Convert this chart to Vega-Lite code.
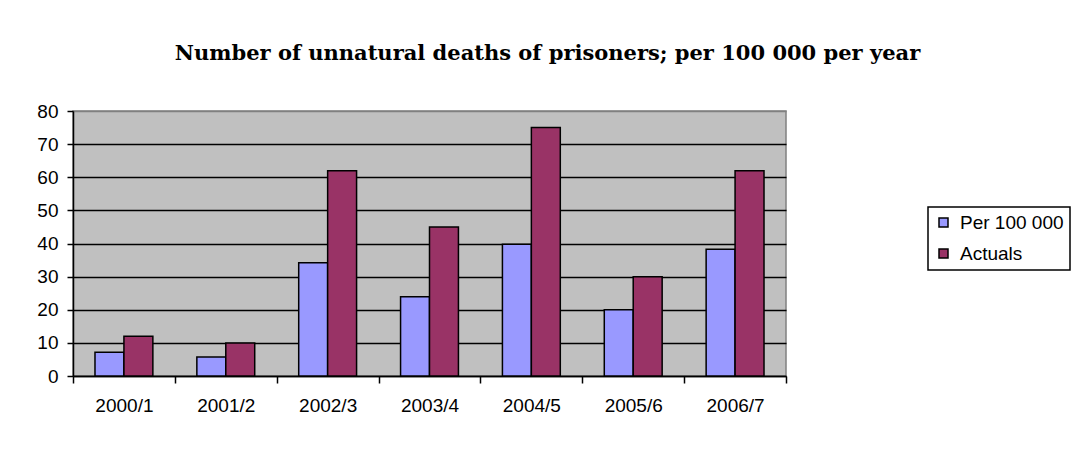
{
  "$schema": "https://vega.github.io/schema/vega-lite/v6.json",
  "width": 713,
  "height": 265,
  "autosize": {"type": "none"},
  "padding": {"left": 73, "top": 111, "right": 297, "bottom": 74},
  "background": "white",
  "title": {
    "text": "Number of unnatural deaths of prisoners; per 100 000 per year",
    "font": "DejaVu Serif",
    "fontWeight": "bold",
    "fontSize": 21,
    "color": "black",
    "anchor": "middle",
    "dx": 118,
    "offset": 38
  },
  "data": {
    "values": [
      {"year": "2000/1", "series": "Per 100 000", "value": 7.2},
      {"year": "2000/1", "series": "Actuals", "value": 12},
      {"year": "2001/2", "series": "Per 100 000", "value": 5.7},
      {"year": "2001/2", "series": "Actuals", "value": 10},
      {"year": "2002/3", "series": "Per 100 000", "value": 34.2},
      {"year": "2002/3", "series": "Actuals", "value": 62},
      {"year": "2003/4", "series": "Per 100 000", "value": 23.9},
      {"year": "2003/4", "series": "Actuals", "value": 45},
      {"year": "2004/5", "series": "Per 100 000", "value": 39.8},
      {"year": "2004/5", "series": "Actuals", "value": 75},
      {"year": "2005/6", "series": "Per 100 000", "value": 20},
      {"year": "2005/6", "series": "Actuals", "value": 30},
      {"year": "2006/7", "series": "Per 100 000", "value": 38.3},
      {"year": "2006/7", "series": "Actuals", "value": 62}
    ]
  },
  "mark": {"type": "bar", "stroke": "black", "strokeWidth": 1.5},
  "encoding": {
    "x": {
      "field": "year",
      "type": "nominal",
      "sort": null,
      "title": null,
      "scale": {"paddingInner": 0, "paddingOuter": 0},
      "axis": {
        "labelAngle": 0,
        "tickBand": "extent",
        "grid": false,
        "domainColor": "black",
        "domainWidth": 1.5,
        "tickColor": "black",
        "tickWidth": 1.5,
        "tickSize": 7,
        "labelPadding": 13,
        "labelFont": "Liberation Sans",
        "labelFontSize": 19,
        "labelColor": "black"
      }
    },
    "xOffset": {
      "field": "series",
      "type": "nominal",
      "sort": ["Per 100 000", "Actuals"],
      "scale": {"paddingInner": 0, "paddingOuter": 0.76}
    },
    "y": {
      "field": "value",
      "type": "quantitative",
      "title": null,
      "scale": {"domain": [0, 80], "nice": false},
      "axis": {
        "values": [0, 10, 20, 30, 40, 50, 60, 70, 80],
        "grid": true,
        "gridColor": {"condition": {"test": "datum.value === 80", "value": "#808080"}, "value": "black"},
        "gridWidth": 1.5,
        "domainColor": "black",
        "domainWidth": 1.5,
        "tickColor": "black",
        "tickWidth": 1.5,
        "tickSize": 6,
        "labelPadding": 9,
        "labelFont": "Liberation Sans",
        "labelFontSize": 19,
        "labelColor": "black"
      }
    },
    "color": {
      "field": "series",
      "type": "nominal",
      "sort": ["Per 100 000", "Actuals"],
      "scale": {"domain": ["Per 100 000", "Actuals"], "range": ["#9999FF", "#993366"]},
      "legend": {
        "title": null,
        "orient": "none",
        "legendX": 855,
        "legendY": 96,
        "strokeColor": "black",
        "padding": 6,
        "symbolType": "square",
        "symbolSize": 81,
        "symbolStrokeColor": "black",
        "symbolStrokeWidth": 1.5,
        "symbolOpacity": 1,
        "labelFont": "Liberation Sans",
        "labelFontSize": 19,
        "labelColor": "black",
        "labelOffset": 7,
        "rowPadding": 11,
        "fillColor": "white",
        "encode": {"legend": {"update": {"strokeWidth": {"value": 1.5}}}}
      }
    }
  },
  "config": {
    "view": {"fill": "#C0C0C0", "stroke": "#808080", "strokeWidth": 1.5}
  }
}
